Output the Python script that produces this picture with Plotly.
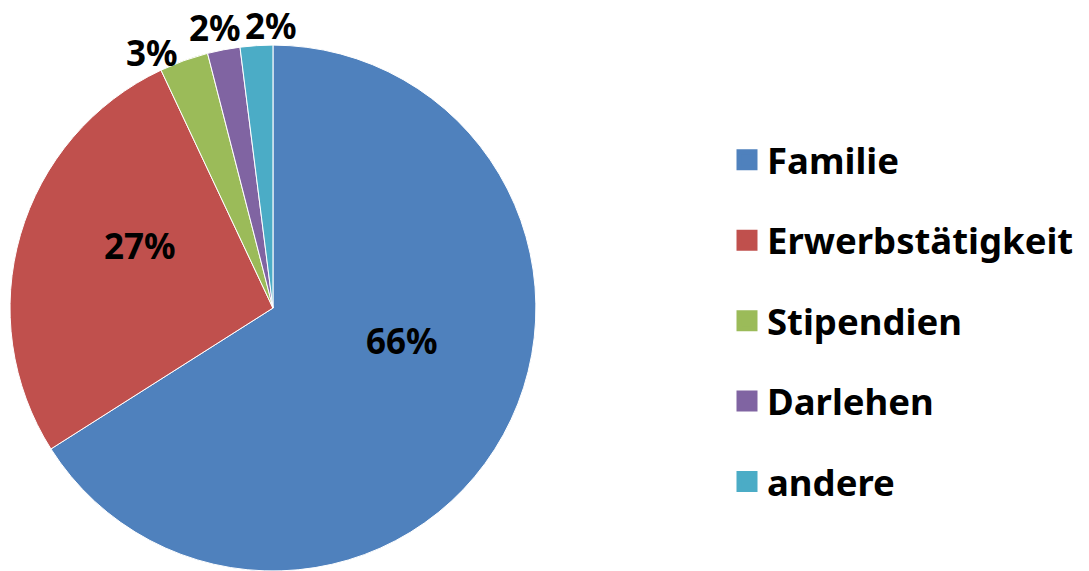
import math
import plotly.graph_objects as go

labels = ["Familie", "Erwerbstätigkeit", "Stipendien", "Darlehen", "andere"]
values = [66, 27, 3, 2, 2]
colors = ["#4F81BD", "#C0504D", "#9BBB59", "#8064A2", "#4BACC6"]

# label placement (style): radial position as fraction of radius, plus pixel nudge
label_radius = [0.5, 0.5, 1.0, 1.0, 1.0]
label_nudge = [(14, -31), (-7, -26), (-32, -8), (-9, -22), (15, -20)]

FONT = "Noto Sans"
W, H = 1089, 571
DOM_X = [0, 0.5013]
DOM_Y = [0, 0.921]

fig = go.Figure()
fig.add_trace(go.Pie(
    labels=labels, values=values, sort=False, direction="clockwise", rotation=0,
    marker=dict(colors=colors, line=dict(color="white", width=1)),
    textinfo="none",
    showlegend=False, hoverinfo="label+percent",
    domain=dict(x=DOM_X, y=DOM_Y),
))

# percentage labels positioned from the slice angles
cx_px = (DOM_X[0] + DOM_X[1]) / 2 * W
cy_px = (1 - (DOM_Y[0] + DOM_Y[1]) / 2) * H
r_px = min((DOM_X[1] - DOM_X[0]) * W, (DOM_Y[1] - DOM_Y[0]) * H) / 2
total = sum(values)
cum = 0
for v, fr, (nx, ny) in zip(values, label_radius, label_nudge):
    mid = (cum + v / 2) / total * 2 * math.pi
    cum += v
    ux, uy = math.sin(mid), -math.cos(mid)
    px = cx_px + ux * r_px * fr + nx
    py = cy_px + uy * r_px * fr + ny
    fig.add_annotation(
        x=px / W, y=1 - py / H, xref="paper", yref="paper",
        text=f"{round(v / total * 100)}%", showarrow=False,
        xanchor="center", yanchor="middle",
        font=dict(family=FONT, size=35, color="black", weight="bold"),
    )

for lab, col in zip(labels, colors):
    fig.add_trace(go.Scatter(
        x=[None], y=[None], mode="markers", name=lab, legendgroup=lab,
        marker=dict(symbol="square", size=16, color=col, line=dict(color=col, width=5)),
    ))

fig.update_layout(
    width=W, height=H,
    margin=dict(l=0, r=0, t=0, b=0),
    paper_bgcolor="white", plot_bgcolor="white",
    xaxis=dict(visible=False), yaxis=dict(visible=False),
    legend=dict(
        x=727 / W, y=0.4378, xanchor="left", yanchor="middle",
        font=dict(family=FONT, size=36.5, color="black", weight="bold"),
        tracegroupgap=30, itemsizing="trace",
        entrywidth=290, entrywidthmode="pixels",
        bgcolor="rgba(0,0,0,0)",
    ),
)
fig.write_html("out.html")
